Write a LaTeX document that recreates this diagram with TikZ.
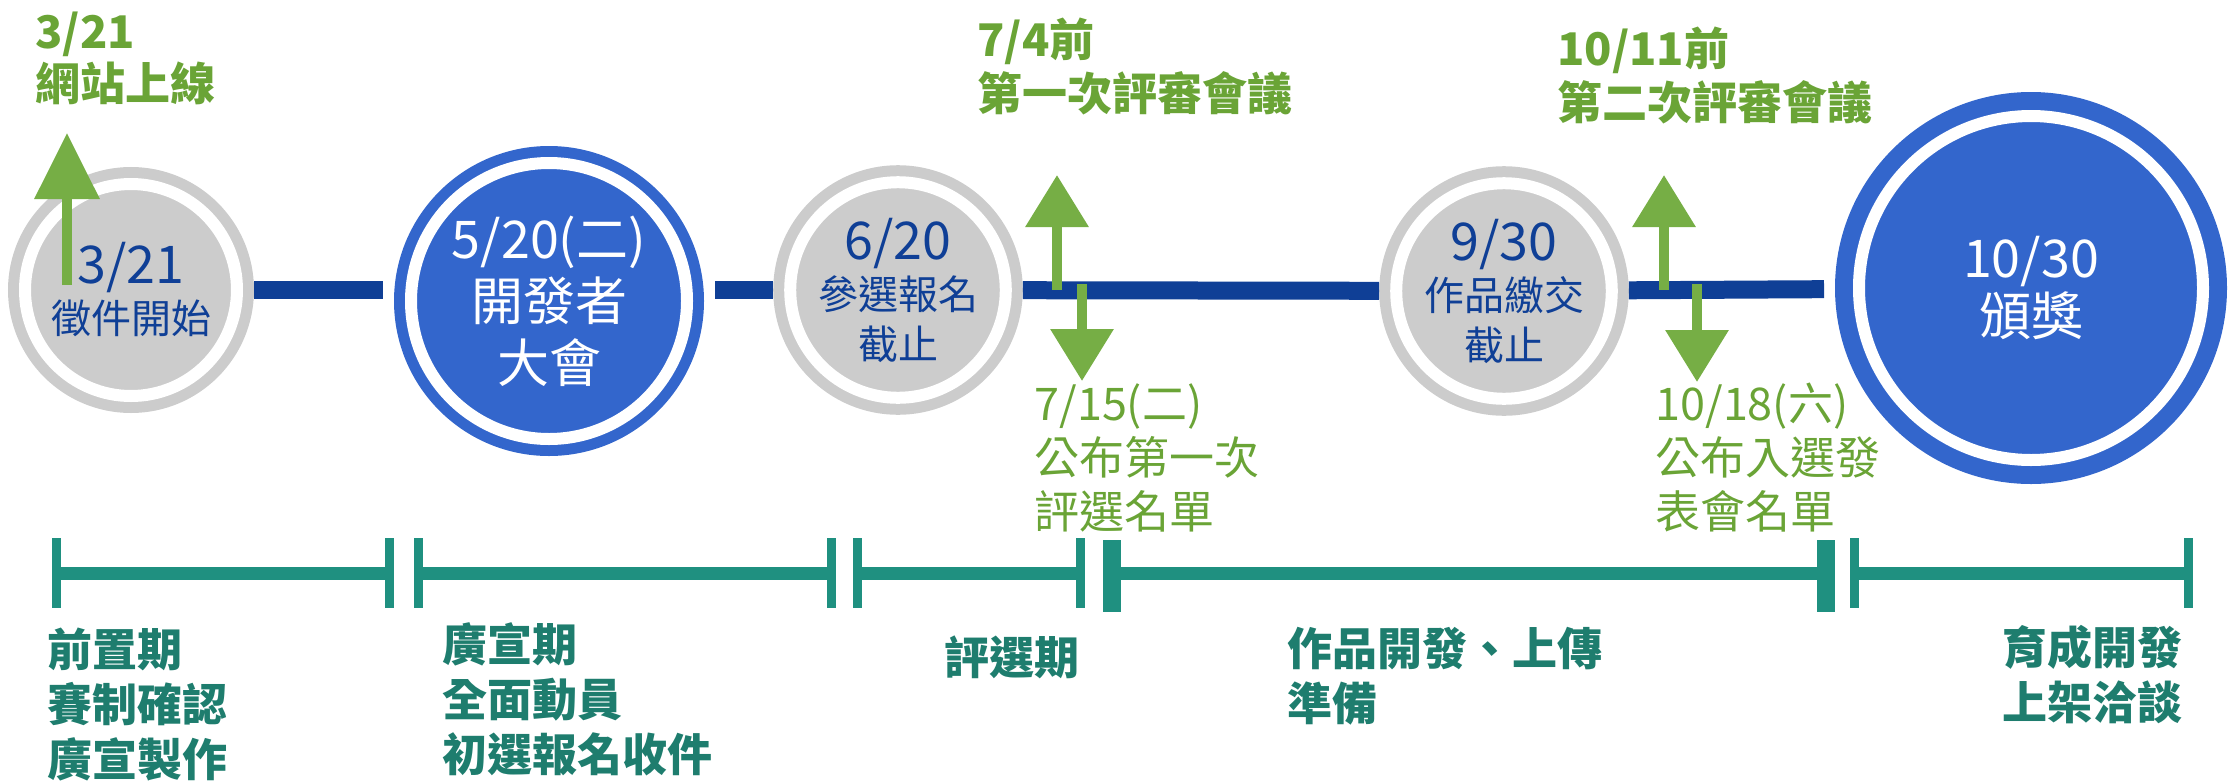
\documentclass[tikz,border=0pt]{standalone}
\usepackage{fontspec}
\setmainfont{Noto Sans CJK TC}
\usepackage{tikz}
\usetikzlibrary{arrows.meta}

\definecolor{navy}{HTML}{0F3F96}
\definecolor{ringgray}{HTML}{CCCCCC}
\definecolor{eventblue}{HTML}{3366CC}
\definecolor{leafgreen}{HTML}{6AA436}
\definecolor{arrowgreen}{HTML}{76AE45}
\definecolor{tealbar}{HTML}{1F9080}
\definecolor{tealtext}{HTML}{1E7D6E}

\begin{document}
\begin{tikzpicture}[
  x=0.5pt, y=-0.5pt,
  milestone/.style={circle, draw=ringgray, fill=ringgray, line width=5.5pt, double=white, double distance=6pt, minimum size=106pt, inner sep=0pt, outer sep=8.5pt, align=center, text=navy, font=\fontsize{20}{25}\selectfont},
  event/.style={circle, draw=eventblue, fill=eventblue, line width=5.5pt, double=white, double distance=6pt, minimum size=138pt, inner sep=0pt, outer sep=14pt, align=center, text=white, font=\fontsize{26}{31}\selectfont},
  final/.style={event, line width=9pt, minimum size=172pt, outer sep=17.5pt, font=\fontsize{26}{29}\selectfont},
  link/.style={line width=9pt, navy},
  arrow/.style={-{Triangle[width=30.5pt, length=26pt]}, line width=5pt, arrowgreen},
  bigarrow/.style={arrow, -{Triangle[width=31.5pt, length=33pt]}},
  note/.style={anchor=north west, inner sep=0pt, align=left, text=leafgreen, font=\fontsize{22.5}{27}\selectfont},
  boldnote/.style={note, font=\bfseries\fontsize{22.5}{27}\selectfont},
  phase/.style={anchor=north west, inner sep=0pt, align=left, text=tealtext, font=\bfseries\fontsize{22.5}{27.5}\selectfont},
  period/.style={line width=6.5pt, tealbar},
  endtick/.style={line width=4.5pt, tealbar},
  thicktick/.style={line width=9pt, tealbar}
]
\useasboundingbox (0,0) rectangle (2228,782);

% Milestones on the timeline
\node[milestone] (start) at (131,290) {{\fontsize{26}{30}\selectfont 3/21}\\徵件開始};
\node[event] (devday) at (549,301) {5/20(二)\\開發者\\大會};
\node[milestone] (signup) at (898,290) {{\fontsize{26}{30}\selectfont 6/20}\\參選報名\\截止};
\node[milestone] (submit) at (1504,291) {{\fontsize{26}{30}\selectfont 9/30}\\作品繳交\\截止};
\node[final] (award) at (2031,288) {10/30\\頒獎};

\draw[link] (start) -- (start -| devday.west);
\draw[link] (signup -| devday.east) -- (signup);
\draw[link] (signup) -- (submit);
\draw[link] (submit) -- (award);

% Review meetings and results
\coordinate (web base) at (67,285);
\coordinate (web tip) at (67,133);
\coordinate (review1 base) at (1057,290);
\coordinate (review1 tip) at (1057,175);
\coordinate (result1 base) at (1082,284);
\coordinate (result1 tip) at (1082,381);
\coordinate (review2 base) at (1664,290);
\coordinate (review2 tip) at (1664,175);
\coordinate (result2 base) at (1697,284);
\coordinate (result2 tip) at (1697,382);

\draw[bigarrow] (web base) -- (web tip);
\draw[arrow] (review1 base) -- (review1 tip);
\draw[arrow] (result1 base) -- (result1 tip);
\draw[arrow] (review2 base) -- (review2 tip);
\draw[arrow] (result2 base) -- (result2 tip);

\node[boldnote, font=\bfseries\fontsize{22.5}{26}\selectfont] (web) at (35,12) {3/21\\網站上線};
\node[boldnote] (review1) at (977,18) {7/4前\\第一次評審會議};
\node[boldnote] (review2) at (1557,27) {10/11前\\第二次評審會議};
\node[note] (result1) at (1034,383) {7/15(二)\\公布第一次\\評選名單};
\node[note] (result2) at (1655,383) {10/18(六)\\公布入選發\\表會名單};

% Phases
\draw[period] (56,573) -- (389,573);
\draw[endtick] (56,538) -- (56,608) (389,538) -- (389,608);
\draw[period] (418,573) -- (831,573);
\draw[endtick] (418,538) -- (418,608) (831,538) -- (831,608);
\draw[period] (857,573) -- (1080,573);
\draw[endtick] (857,538) -- (857,608) (1080,538) -- (1080,608);
\draw[period] (1112,573) -- (1826,573);
\draw[thicktick] (1112,540) -- (1112,612) (1826,540) -- (1826,612);
\draw[period] (1854,573) -- (2188,573);
\draw[endtick] (1854,538) -- (1854,608) (2188,538) -- (2188,608);

\node[phase] (prep) at (47,628) {前置期\\賽制確認\\廣宣製作};
\node[phase] (promo) at (442,622) {廣宣期\\全面動員\\初選報名收件};
\node[phase] (select) at (944,635) {評選期};
\node[phase] (build) at (1287,627) {作品開發、上傳\\準備};
\node[phase] (incubate) at (2002,625) {育成開發\\上架洽談};

\end{tikzpicture}
\end{document}
